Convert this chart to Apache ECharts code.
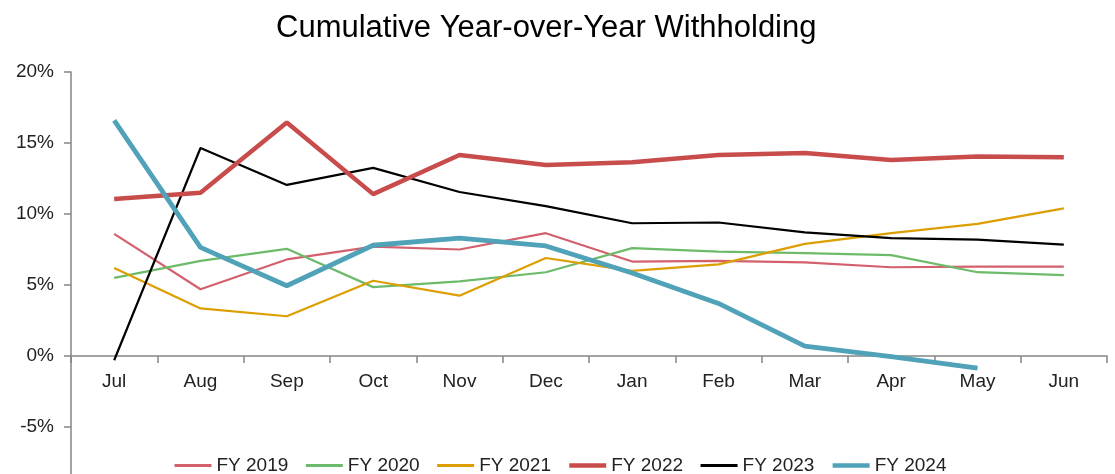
<!DOCTYPE html>
<html>
<head>
<meta charset="utf-8">
<script src="https://cdn.jsdelivr.net/npm/echarts@6/dist/echarts.min.js"></script>
<style>html,body{margin:0;padding:0;background:#fff;}#c{width:1115px;height:474px;}</style>
</head>
<body>
<div id="c"></div>
<script>
const months = ['Jul','Aug','Sep','Oct','Nov','Dec','Jan','Feb','Mar','Apr','May','Jun'];
const fy2019 = [8.6, 4.7, 6.8, 7.7, 7.5, 8.65, 6.65, 6.7, 6.6, 6.25, 6.3, 6.3];
const fy2020 = [5.5, 6.7, 7.55, 4.85, 5.25, 5.9, 7.6, 7.35, 7.25, 7.1, 5.9, 5.7];
const fy2021 = [6.2, 3.35, 2.8, 5.3, 4.25, 6.9, 6.0, 6.45, 7.9, 8.65, 9.3, 10.4];
const fy2022 = [11.05, 11.5, 16.45, 11.4, 14.15, 13.45, 13.65, 14.15, 14.3, 13.8, 14.05, 14.0];
const fy2023 = [-0.3, 14.65, 12.05, 13.25, 11.55, 10.55, 9.35, 9.4, 8.7, 8.3, 8.2, 7.85];
const fy2024 = [16.6, 7.65, 4.95, 7.8, 8.3, 7.75, 5.85, 3.7, 0.7, -0.05, -0.85, null];
const seriesNames = ['FY 2019','FY 2020','FY 2021','FY 2022','FY 2023','FY 2024'];
const yTicks = {min: -10, max: 20, interval: 5};

const colors = ['#d3606d','#6dbb6a','#dc9e00','#c94c4c','#000000','#4fa2b8'];
const widths = [2.2, 2.2, 2.2, 4.5, 2.2, 4.8];
const legendWidths = [3, 3, 3, 4.5, 3, 4.5];
const data = [fy2019, fy2020, fy2021, fy2022, fy2023, fy2024];

const chart = echarts.init(document.getElementById('c'), null, {renderer:'canvas'});
const font = 'Arial, "Liberation Sans", sans-serif';
const plotTop = 72, plotH = 426;
// zero line position (for label-only axis)
const zeroH = plotH * (yTicks.max - 0) / (yTicks.max - yTicks.min);
chart.setOption({
  animation: false,
  backgroundColor: '#fff',
  title: {
    text: 'Cumulative Year-over-Year Withholding',
    left: 271, top: 8,
    textStyle: {fontFamily: font, fontSize: 31, fontWeight: 'normal', color: '#000'}
  },
  legend: {
    data: seriesNames.map((n, i) => ({name: n, lineStyle: {width: legendWidths[i]}})),
    left: 173, top: 456, padding: 0,
    itemWidth: 37, itemHeight: 12, itemGap: 16,
    itemStyle: {opacity: 0},
    textStyle: {fontFamily: font, fontSize: 19, color: '#222'}
  },
  grid: [
    {left: 71, right: 8, top: plotTop, height: plotH, containLabel: false, outerBoundsMode: 'none'},
    {left: 71, right: 8, top: plotTop, height: zeroH, containLabel: false, outerBoundsMode: 'none'}
  ],
  xAxis: [{
    type: 'category', data: months, boundaryGap: true, gridIndex: 0,
    axisLine: {onZero: true, lineStyle: {color: '#858585', width: 1.5}},
    axisTick: {show: true, length: 7, lineStyle: {color: '#858585', width: 1.5}},
    axisLabel: {show: false},
    splitLine: {show: false}
  }, {
    type: 'category', data: months, boundaryGap: true, gridIndex: 1,
    axisLine: {show: false}, axisTick: {show: false},
    axisLabel: {fontFamily: font, fontSize: 19, color: '#222', margin: 16},
    splitLine: {show: false}
  }],
  yAxis: [{
    type: 'value', min: yTicks.min, max: yTicks.max, interval: yTicks.interval, gridIndex: 0,
    axisLine: {show: true, lineStyle: {color: '#858585', width: 1.5}},
    axisTick: {show: true, length: 7, lineStyle: {color: '#858585', width: 1.5}},
    axisLabel: {fontFamily: font, fontSize: 19, color: '#222', margin: 17, formatter: '{value}%'},
    splitLine: {show: false}
  }, {
    type: 'value', min: 0, max: yTicks.max, gridIndex: 1, show: false
  }],
  series: seriesNames.map((n, i) => ({
    name: n, type: 'line', data: data[i], xAxisIndex: 0, yAxisIndex: 0,
    symbol: 'none', showSymbol: false, smooth: false,
    color: colors[i],
    lineStyle: {color: colors[i], width: widths[i]},
    z: i === 3 || i === 5 ? 3 : 2
  }))
});
</script>
</body>
</html>
